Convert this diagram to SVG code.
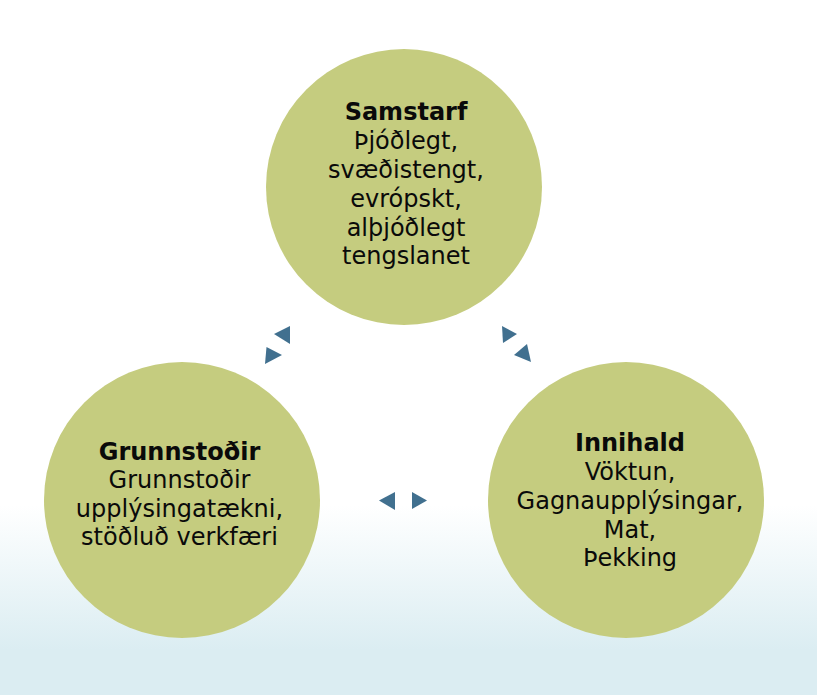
<svg xmlns="http://www.w3.org/2000/svg" width="817" height="695" viewBox="0 0 817 695">
<defs>
<linearGradient id="bg" x1="0" y1="505" x2="0" y2="650" gradientUnits="userSpaceOnUse">
<stop offset="0" stop-color="#ffffff"/>
<stop offset="1" stop-color="#dbedf2"/>
</linearGradient>
<style>
.c{fill:#c5cc7f}
.t{font-family:"DejaVu Sans",Verdana,sans-serif;font-size:24px;fill:#0a0a0a;text-anchor:middle}
.b{font-weight:bold}
.a{fill:#41708f}
</style>
</defs>
<rect x="0" y="0" width="817" height="695" fill="url(#bg)"/>
<g id="samstarf">
<circle class="c" cx="404" cy="187" r="138"/>
<text class="t"><tspan class="b" x="406" y="120">Samstarf</tspan><tspan x="406" y="149">Þjóðlegt,</tspan><tspan x="406" y="178">svæðistengt,</tspan><tspan x="406" y="207">evrópskt,</tspan><tspan x="406" y="235.5">alþjóðlegt</tspan><tspan x="406" y="264">tengslanet</tspan></text>
</g>
<g id="grunnstodir">
<circle class="c" cx="182" cy="500" r="138"/>
<text class="t"><tspan class="b" x="179.5" y="459.5">Grunnstoðir</tspan><tspan x="179.5" y="488">Grunnstoðir</tspan><tspan x="179.5" y="516.5">upplýsingatækni,</tspan><tspan x="179.5" y="545">stöðluð verkfæri</tspan></text>
</g>
<g id="innihald">
<circle class="c" cx="626" cy="500" r="138"/>
<text class="t"><tspan class="b" x="630" y="451">Innihald</tspan><tspan x="630" y="480">Vöktun,</tspan><tspan x="630" y="508.5">Gagnaupplýsingar,</tspan><tspan x="630" y="537.5">Mat,</tspan><tspan x="630" y="566">Þekking</tspan></text>
</g>
<g id="connectors">
<polygon class="a" points="274,334 290,326 290,344"/>
<polygon class="a" points="266.5,347 265,364 282,355"/>
<polygon class="a" points="502,326 503,343 517,334"/>
<polygon class="a" points="527,344 531,362 514,355"/>
<polygon class="a" points="379,500.5 395,492 395,510"/>
<polygon class="a" points="412,492 412,509 427,500.5"/>
</g>
</svg>
